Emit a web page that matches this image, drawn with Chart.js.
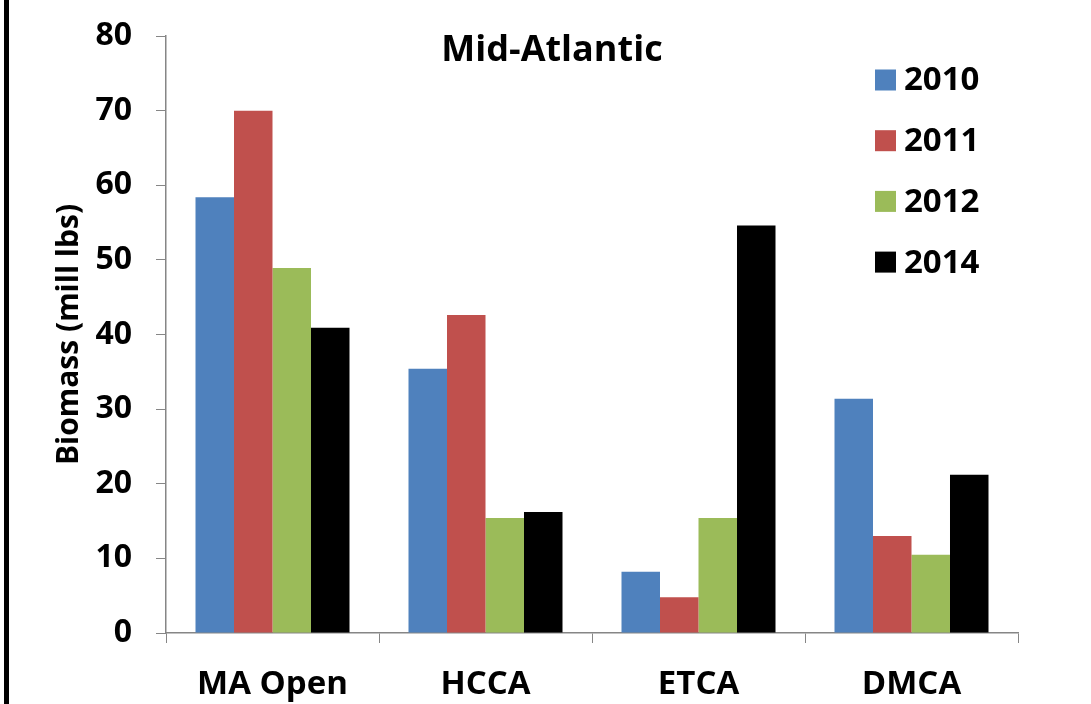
<!DOCTYPE html>
<html>
<head>
<meta charset="utf-8">
<script src="https://cdn.jsdelivr.net/npm/chart.js@4.4.0/dist/chart.umd.min.js"></script>
<style>
  body { margin: 0; background: #fff; }
  #wrap { position: relative; width: 1091px; height: 704px; }
  #edge { position: absolute; left: 4px; top: 0; width: 5px; height: 704px; background: #000; }
</style>
</head>
<body>
<div id="wrap">
  <canvas id="grafico" width="1091" height="704"></canvas>
  <div id="edge"></div>
</div>
<script>
const categorias = ['MA Open', 'HCCA', 'ETCA', 'DMCA'];
const anios = ['2010', '2011', '2012', '2014'];
const valores2010 = [58.4, 35.4, 8.2, 31.4];
const valores2011 = [70.0, 42.6, 4.8, 13.0];
const valores2012 = [48.9, 15.4, 15.4, 10.5];
const valores2014 = [40.9, 16.2, 54.6, 21.2];
const ticksY = [0, 10, 20, 30, 40, 50, 60, 70, 80];
const colores = ['#4F81BD', '#C0504D', '#9BBB59', '#000000'];

const FUENTE = '"Open Sans", Lato, sans-serif';

// titulo y leyenda dibujados dentro del area del grafico
const extras = {
    id: 'extras',
    afterDraw(chart) {
        const ctx = chart.ctx;
        ctx.save();
        ctx.fillStyle = '#000';
        ctx.font = 'bold 36px ' + FUENTE;
        ctx.textAlign = 'center';
        ctx.textBaseline = 'middle';
        ctx.fillText('Mid-Atlantic', 552, 51);

        ctx.font = 'bold 33px ' + FUENTE;
        ctx.textAlign = 'left';
        chart.data.datasets.forEach((ds, i) => {
            const y = 80 + i * 60.7;
            ctx.fillStyle = ds.backgroundColor;
            ctx.fillRect(875, y - 10.5, 21, 21);
            ctx.fillStyle = '#000';
            ctx.fillText(ds.label, 904, y + 1);
        });
        ctx.restore();
    }
};

const series = [valores2010, valores2011, valores2012, valores2014];

new Chart(document.getElementById('grafico').getContext('2d'), {
    type: 'bar',
    data: {
        labels: categorias,
        datasets: series.map((vals, i) => ({
            label: anios[i],
            data: vals,
            backgroundColor: colores[i],
            borderWidth: 0,
            categoryPercentage: 0.723,
            barPercentage: 1.0
        }))
    },
    options: {
        responsive: false,
        animation: false,
        layout: { padding: { top: 36, right: 73, left: 0, bottom: 0 } },
        plugins: {
            legend: { display: false },
            title: { display: false },
            tooltip: { enabled: false }
        },
        scales: {
            x: {
                offset: true,
                grid: { offset: true, drawOnChartArea: false, drawTicks: true, tickLength: 10, color: '#868686' },
                border: { color: '#868686', width: 1.5 },
                ticks: { color: '#000', font: { family: FUENTE, size: 33, weight: 'bold' }, padding: 22 },
                afterFit(scale) { scale.height = 71; scale.paddingLeft = 0; scale.paddingRight = 0; }
            },
            y: {
                min: 0,
                max: 80,
                afterBuildTicks(scale) { scale.ticks = ticksY.map(v => ({ value: v })); },
                grid: { drawOnChartArea: false, drawTicks: true, tickLength: 10, color: '#868686' },
                border: { color: '#868686', width: 1.5 },
                ticks: { color: '#000', font: { family: FUENTE, size: 32, weight: 'bold' }, padding: 24 },
                title: {
                    display: true,
                    text: 'Biomass (mill lbs)',
                    color: '#000',
                    font: { family: FUENTE, size: 30, weight: 'bold' },
                    padding: { top: 51, bottom: 0 }
                },
                afterFit(scale) { scale.width = 166; scale.paddingTop = 0; scale.paddingBottom = 0; }
            }
        }
    },
    plugins: [extras]
});
</script>
</body>
</html>
